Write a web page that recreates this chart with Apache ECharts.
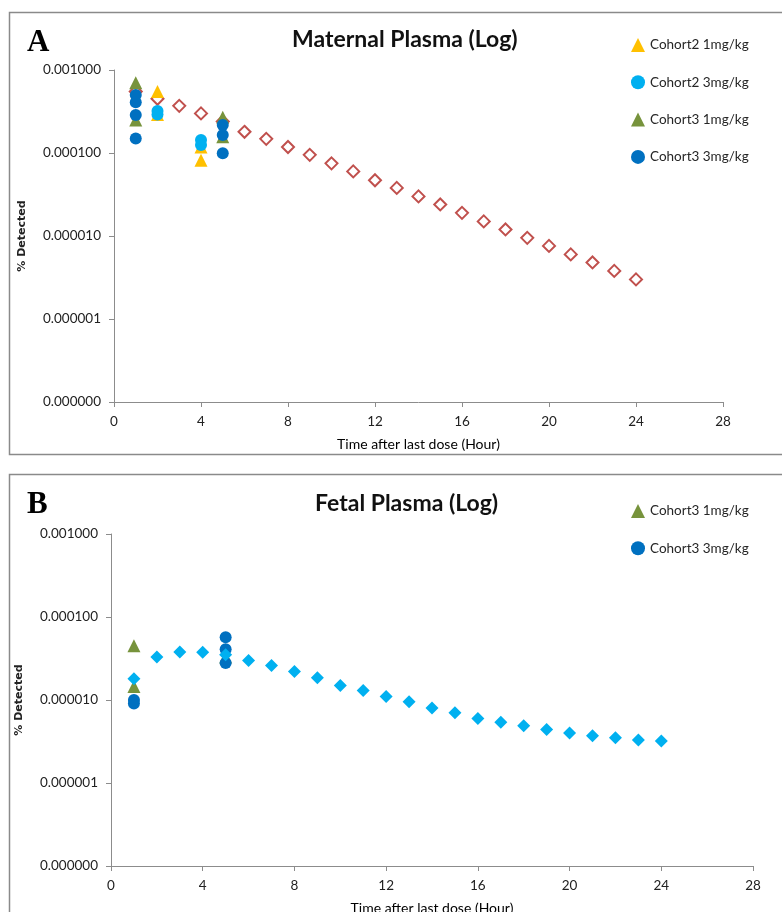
<!DOCTYPE html>
<html>
<head>
<meta charset="utf-8">
<script src="https://cdn.jsdelivr.net/npm/echarts@6/dist/echarts.min.js"></script>
<style>
  html, body { margin: 0; padding: 0; background: #fff; }
  #main { width: 782px; height: 912px; }
</style>
</head>
<body>
<div id="main"></div>
<script>
// 基于准备好的dom，初始化echarts实例
var myChart = echarts.init(document.getElementById('main'));

// time after last dose (hour)
var hours = [1, 2, 3, 4, 5, 6, 7, 8, 9, 10, 11, 12, 13, 14, 15, 16, 17, 18, 19, 20, 21, 22, 23, 24];
var xTicks = [0, 4, 8, 12, 16, 20, 24, 28];

// A: maternal plasma, model curve (hollow diamonds)
var maternalModel = [0.00055, 0.00045, 0.00037, 0.00030, 0.00024, 0.00018, 0.000148, 0.000118,
  0.000095, 0.000075, 0.000060, 0.000047, 0.000038, 0.000030, 0.000024, 0.000019,
  0.000015, 0.000012, 0.0000095, 0.0000076, 0.0000060, 0.0000048, 0.0000038, 0.0000030];
// A: observed points [hour, value]
var matC2low = [[2, 0.00055], [2, 0.00029], [4, 0.000118], [4, 0.000082]];
var matC2high = [[2, 0.00032], [2, 0.00029], [4, 0.000143], [4, 0.000125]];
var matC3low = [[1, 0.00070], [1, 0.00025], [5, 0.00027], [5, 0.000157]];
var matC3high = [[1, 0.00050], [1, 0.00041], [1, 0.000287], [1, 0.000150], [5, 0.000218], [5, 0.000165], [5, 0.0000993]];

// B: fetal plasma, model curve (filled diamonds)
var fetalModel = [0.000018, 0.000033, 0.000038, 0.0000375, 0.000035, 0.000030, 0.000026, 0.000022,
  0.0000185, 0.000015, 0.000013, 0.000011, 0.0000095, 0.0000080, 0.0000070, 0.0000060,
  0.0000054, 0.0000049, 0.0000044, 0.0000040, 0.0000037, 0.0000035, 0.0000033, 0.0000032];
var fetC3low = [[1, 0.000045], [1, 0.0000145], [5, 0.000033]];
var fetC3high = [[1, 0.0000100], [1, 0.0000091], [5, 0.000057], [5, 0.000041], [5, 0.000028]];

var yTicks = [0.0000001, 0.000001, 0.00001, 0.0001, 0.001];

var cYellow = '#FFC000', cCyan = '#00B0F0', cGreen = '#77933C', cBlue = '#0070C0', cRed = '#C0504D';
var font = 'Lato, "Open Sans", sans-serif';

function zip(xs, ys) {
  return xs.map(function (x, i) { return [x, ys[i]]; });
}

function xAxisOf(gridIndex) {
  return {
    gridIndex: gridIndex,
    type: 'value',
    min: xTicks[0],
    max: xTicks[xTicks.length - 1],
    interval: 4,
    name: 'Time after last dose (Hour)',
    nameLocation: 'middle',
    nameGap: 35,
    nameTextStyle: { fontFamily: font, fontSize: 14, color: '#000' },
    axisLine: { lineStyle: { color: '#8c8c8c' } },
    axisTick: { length: 5, lineStyle: { color: '#8c8c8c' } },
    axisLabel: { fontFamily: font, fontSize: 13.5, color: '#222', margin: 13 },
    splitLine: { show: false }
  };
}

function yAxisOf(gridIndex) {
  return {
    gridIndex: gridIndex,
    type: 'log',
    logBase: 10,
    min: yTicks[0],
    max: yTicks[yTicks.length - 1],
    name: '% Detected',
    nameLocation: 'middle',
    nameRotate: 90,
    nameGap: 86,
    nameTextStyle: { fontFamily: '"DejaVu Sans", sans-serif', fontWeight: 'bold', fontSize: 11, color: '#222' },
    axisLine: { show: true, lineStyle: { color: '#8c8c8c' } },
    axisTick: { show: true, length: 5, lineStyle: { color: '#8c8c8c' } },
    axisLabel: {
      fontFamily: font, fontSize: 13.5, color: '#222', margin: 13,
      formatter: function (v) { return Number(v).toFixed(6); }
    },
    splitLine: { show: false }
  };
}

var legendText = { fontFamily: font, fontSize: 13.5, color: '#262626' };

option = {
  animation: false,
  backgroundColor: '#fff',
  title: [
    { text: 'A', left: 22, top: 22, textStyle: { fontFamily: '"Liberation Serif", serif', fontWeight: 'bold', fontSize: 31, color: '#000' } },
    { text: 'Maternal Plasma (Log)', left: 287, top: 23, textStyle: { fontFamily: font, fontWeight: 'bold', fontSize: 23, color: '#111' } },
    { text: 'B', left: 22, top: 484, textStyle: { fontFamily: '"Liberation Serif", serif', fontWeight: 'bold', fontSize: 31, color: '#000' } },
    { text: 'Fetal Plasma (Log)', left: 310, top: 487, textStyle: { fontFamily: font, fontWeight: 'bold', fontSize: 23, color: '#111' } }
  ],
  graphic: [
    { type: 'rect', shape: { x: 9.5, y: 12.5, width: 800, height: 442 }, style: { fill: 'none', stroke: '#8a8a8a', lineWidth: 1.5 } },
    { type: 'rect', shape: { x: 9.5, y: 474.5, width: 800, height: 500 }, style: { fill: 'none', stroke: '#8a8a8a', lineWidth: 1.5 } }
  ],
  legend: [
    {
      orient: 'vertical', left: 626, top: 33, itemWidth: 14, itemHeight: 14, itemGap: 23.3,
      textStyle: legendText,
      data: [
        { name: 'Cohort2 1mg/kg', icon: 'triangle' },
        { name: 'Cohort2 3mg/kg', icon: 'circle' },
        { name: 'Cohort3 1mg/kg', icon: 'triangle' },
        { name: 'Cohort3 3mg/kg', icon: 'circle' }
      ]
    },
    {
      orient: 'vertical', left: 626, top: 499, itemWidth: 14, itemHeight: 14, itemGap: 23.3,
      textStyle: legendText,
      data: [
        { name: 'Cohort3 1mg/kg ', icon: 'triangle' },
        { name: 'Cohort3 3mg/kg ', icon: 'circle' }
      ]
    }
  ],
  grid: [
    { left: 114, right: 59, top: 70, height: 332, outerBoundsMode: 'none' },
    { left: 111, right: 29, top: 534, height: 332, outerBoundsMode: 'none' }
  ],
  xAxis: [xAxisOf(0), xAxisOf(1)],
  yAxis: [yAxisOf(0), yAxisOf(1)],
  series: [
    {
      name: 'Maternal model', type: 'scatter', xAxisIndex: 0, yAxisIndex: 0, z: 1,
      symbol: 'diamond', symbolSize: 12,
      itemStyle: { color: '#fff', borderColor: cRed, borderWidth: 2, opacity: 1 },
      data: zip(hours, maternalModel)
    },
    {
      name: 'Cohort2 1mg/kg', type: 'scatter', xAxisIndex: 0, yAxisIndex: 0, z: 2,
      symbol: 'triangle', symbolSize: 13, itemStyle: { color: cYellow, opacity: 1 }, data: matC2low
    },
    {
      name: 'Cohort2 3mg/kg', type: 'scatter', xAxisIndex: 0, yAxisIndex: 0, z: 3,
      symbol: 'circle', symbolSize: 12, itemStyle: { color: cCyan, opacity: 1 }, data: matC2high
    },
    {
      name: 'Cohort3 1mg/kg', type: 'scatter', xAxisIndex: 0, yAxisIndex: 0, z: 4,
      symbol: 'triangle', symbolSize: 13, itemStyle: { color: cGreen, opacity: 1 }, data: matC3low
    },
    {
      name: 'Cohort3 3mg/kg', type: 'scatter', xAxisIndex: 0, yAxisIndex: 0, z: 5,
      symbol: 'circle', symbolSize: 12, itemStyle: { color: cBlue, opacity: 1 }, data: matC3high
    },
    {
      name: 'Cohort3 1mg/kg ', type: 'scatter', xAxisIndex: 1, yAxisIndex: 1, z: 2,
      symbol: 'triangle', symbolSize: 13, itemStyle: { color: cGreen, opacity: 1 }, data: fetC3low
    },
    {
      name: 'Cohort3 3mg/kg ', type: 'scatter', xAxisIndex: 1, yAxisIndex: 1, z: 3,
      symbol: 'circle', symbolSize: 12, itemStyle: { color: cBlue, opacity: 1 }, data: fetC3high
    },
    {
      name: 'Fetal model', type: 'scatter', xAxisIndex: 1, yAxisIndex: 1, z: 4,
      symbol: 'diamond', symbolSize: 13, itemStyle: { color: cCyan, opacity: 1 },
      data: zip(hours, fetalModel)
    }
  ]
};

// 使用刚指定的配置项和数据显示图表。
myChart.setOption(option);
</script>
</body>
</html>
